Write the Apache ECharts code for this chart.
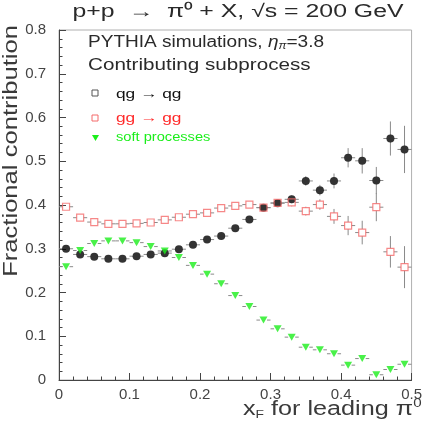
<!DOCTYPE html>
<html>
<head>
<meta charset="utf-8">
<script src="https://cdn.jsdelivr.net/npm/echarts@6/dist/echarts.min.js"></script>
<style>
html,body{margin:0;padding:0;background:#fff;}
#chart{width:425px;height:425px;}
</style>
</head>
<body>
<div id="chart"></div>
<script>
// x_F bin centres
var xF = [0.01,0.03,0.05,0.07,0.09,0.11,0.13,0.15,0.17,0.19,0.21,0.23,0.25,0.27,0.29,0.31,0.33,0.35,0.37,0.39,0.41,0.43,0.45,0.47,0.49];
// qg -> qg (black dots)
var qgVal = [0.300,0.287,0.282,0.277,0.277,0.283,0.287,0.290,0.299,0.309,0.321,0.329,0.347,0.367,0.394,0.404,0.413,0.455,0.434,0.455,0.508,0.501,0.456,0.552,0.527];
var qgErr = [0.003,0.003,0.003,0.003,0.003,0.003,0.003,0.004,0.004,0.004,0.005,0.005,0.006,0.006,0.007,0.008,0.009,0.011,0.012,0.017,0.022,0.029,0.031,0.039,0.054];
// gg -> gg (red open squares)
var ggVal = [0.396,0.371,0.361,0.357,0.357,0.358,0.360,0.366,0.372,0.379,0.382,0.393,0.398,0.401,0.394,0.405,0.406,0.386,0.401,0.374,0.353,0.337,0.395,0.293,0.258];
var ggErr = [0.003,0.003,0.003,0.003,0.003,0.003,0.003,0.004,0.004,0.004,0.005,0.005,0.006,0.006,0.007,0.008,0.009,0.010,0.012,0.017,0.022,0.027,0.032,0.036,0.048];
// soft processes (green triangles)
var softVal = [0.259,0.296,0.312,0.318,0.318,0.314,0.305,0.295,0.280,0.262,0.242,0.220,0.193,0.168,0.137,0.117,0.098,0.075,0.069,0.060,0.034,0.049,0.012,0.024,0.036];
var softErr = [0.002,0.002,0.002,0.002,0.002,0.002,0.002,0.002,0.002,0.002,0.002,0.002,0.002,0.002,0.002,0.002,0.002,0.002,0.002,0.002,0.002,0.002,0.002,0.002,0.002];
var binHalf = 0.01;

var FONT = 'Liberation Sans';

function pts(vals){
  return xF.map(function(x,i){ return [x, vals[i]]; });
}
function errData(vals, errs){
  return xF.map(function(x,i){ return [x, vals[i], errs[i]]; });
}

// error bars, stopping at the marker edge like ROOT does
function errSeries(vals, errs, gap){
  return {
    type: 'custom',
    silent: true,
    z: 1,
    data: errData(vals, errs),
    renderItem: function(params, api){
      var x = api.value(0), y = api.value(1), e = api.value(2);
      var c = api.coord([x, y]);
      var top = api.coord([x, y + e]);
      var bot = api.coord([x, y - e]);
      var l = api.coord([x - binHalf, y]);
      var r = api.coord([x + binHalf, y]);
      var st = {stroke: '#8a8a8a', lineWidth: 1};
      var kids = [
        {type:'line', shape:{x1:l[0], y1:c[1], x2:c[0]-gap, y2:c[1]}, style:st},
        {type:'line', shape:{x1:c[0]+gap, y1:c[1], x2:r[0], y2:c[1]}, style:st}
      ];
      if (c[1] - top[1] > gap) kids.push({type:'line', shape:{x1:c[0], y1:top[1], x2:c[0], y2:c[1]-gap}, style:st});
      if (bot[1] - c[1] > gap) kids.push({type:'line', shape:{x1:c[0], y1:c[1]+gap, x2:c[0], y2:bot[1]}, style:st});
      return {type:'group', children: kids};
    }
  };
}

var myChart = echarts.init(document.getElementById('chart'));

var option = {
  animation: false,
  backgroundColor: '#fff',
  grid: {left: 59, right: 10, top: 30, bottom: 45, show: true, borderColor: '#b0b0b0', borderWidth: 1},
  xAxis: {
    type: 'value', min: 0, max: 0.5, interval: 0.1,
    axisLine: {onZero: false, lineStyle: {color: '#444', width: 1}},
    axisTick: {inside: true, length: 7, lineStyle: {color: '#444'}},
    minorTick: {show: true, splitNumber: 5, length: 3.5, lineStyle: {color: '#444'}},
    splitLine: {show: false},
    axisLabel: {color: '#444', fontFamily: FONT, fontSize: 15, margin: 7,
      formatter: function(v){ return v === 0 ? '0' : v.toFixed(1); }}
  },
  yAxis: {
    type: 'value', min: 0, max: 0.8, interval: 0.1,
    axisLine: {show: true, onZero: false, lineStyle: {color: '#444', width: 1}},
    axisTick: {show: true, inside: true, length: 7, lineStyle: {color: '#444'}},
    minorTick: {show: true, splitNumber: 5, length: 3.5, lineStyle: {color: '#444'}},
    splitLine: {show: false},
    axisLabel: {color: '#444', fontFamily: FONT, fontSize: 15, margin: 13,
      formatter: function(v){ return v === 0 ? '0' : v.toFixed(1); }}
  },
  series: [
    errSeries(qgVal, qgErr, 3.5),
    errSeries(ggVal, ggErr, 3.5),
    errSeries(softVal, softErr, 3.5),
    {
      name: 'qg', type: 'scatter', z: 3, data: pts(qgVal),
      symbol: 'circle', symbolSize: 8,
      itemStyle: {color: '#000'}
    },
    {
      name: 'gg', type: 'scatter', z: 4, data: pts(ggVal),
      symbol: 'rect', symbolSize: 7,
      itemStyle: {color: 'rgba(0,0,0,0)', borderColor: '#f46a6a', borderWidth: 1.2}
    },
    {
      name: 'soft', type: 'scatter', z: 5, data: pts(softVal),
      symbol: 'triangle', symbolRotate: 180, symbolSize: [8, 7],
      itemStyle: {color: '#1bee1b'}
    }
  ],
  graphic: [
    {type:'text', x: 238, y: 12, scaleX: 1.38,
      style:{text:'p+p  \u2192  \u03c0\u2070 + X, \u221as = 200 GeV', fontFamily: FONT, fontSize: 18, fill:'#2a2a2a', align:'center', verticalAlign:'middle'}},
    {type:'text', x: 11, y: 25, rotation: Math.PI/2, scaleX: 1.28,
      style:{text:'Fractional contribution', fontFamily: FONT, fontSize: 20, fill:'#3a3a3a', align:'right', verticalAlign:'middle'}},
    {type:'text', x: 243, y: 409, scaleX: 1.26,
      style:{text:'{b|x}{s|F}{b| for leading \u03c0}{p|0}', fill:'#3a3a3a', verticalAlign:'middle',
        rich:{
          b:{fontFamily: FONT, fontSize: 20, fill:'#3a3a3a'},
          s:{fontFamily: FONT, fontSize: 11, fill:'#3a3a3a', verticalAlign:'bottom', padding:[8,0,0,0]},
          p:{fontFamily: FONT, fontSize: 12, fill:'#3a3a3a', verticalAlign:'top', padding:[0,0,10,0]}
        }}},
    {type:'text', x: 88, y: 43, scaleX: 1.19,
      style:{text:'{a|PYTHIA simulations, }{e|\u03b7}{s|\u03c0}{a|=3.8}', verticalAlign:'middle',
        rich:{
          a:{fontFamily: FONT, fontSize: 16, fill:'#2a2a2a'},
          e:{fontFamily: FONT, fontSize: 16, fill:'#2a2a2a', fontStyle:'italic'},
          s:{fontFamily: FONT, fontSize: 10, fill:'#2a2a2a', fontStyle:'italic', verticalAlign:'bottom', padding:[6,0,0,0]}
        }}},
    {type:'text', x: 88, y: 66, scaleX: 1.29,
      style:{text:'Contributing subprocess', fontFamily: FONT, fontSize: 16, fill:'#2a2a2a', verticalAlign:'middle'}},
    {type:'rect', shape:{x: 92, y: 90, width: 6, height: 6}, style:{fill:'none', stroke:'#555', lineWidth: 1}},
    {type:'text', x: 116, y: 94, scaleX: 1.33,
      style:{text:'qg \u2192 qg', fontFamily: FONT, fontSize: 13, fill:'#111', verticalAlign:'middle'}},
    {type:'rect', shape:{x: 92, y: 115, width: 6, height: 6}, style:{fill:'none', stroke:'#f46a6a', lineWidth: 1}},
    {type:'text', x: 116, y: 118, scaleX: 1.33,
      style:{text:'gg \u2192 gg', fontFamily: FONT, fontSize: 13, fill:'#ff2a2a', verticalAlign:'middle'}},
    {type:'polygon', shape:{points:[[92,135],[99,135],[95.5,141]]}, style:{fill:'#1bee1b'}},
    {type:'text', x: 116, y: 138, scaleX: 1.22,
      style:{text:'soft processes', fontFamily: FONT, fontSize: 12, fill:'#1bee1b', verticalAlign:'middle'}}
  ]
};

myChart.setOption(option);
window.addEventListener('resize', function(){ myChart.resize(); });
</script>
</body>
</html>
